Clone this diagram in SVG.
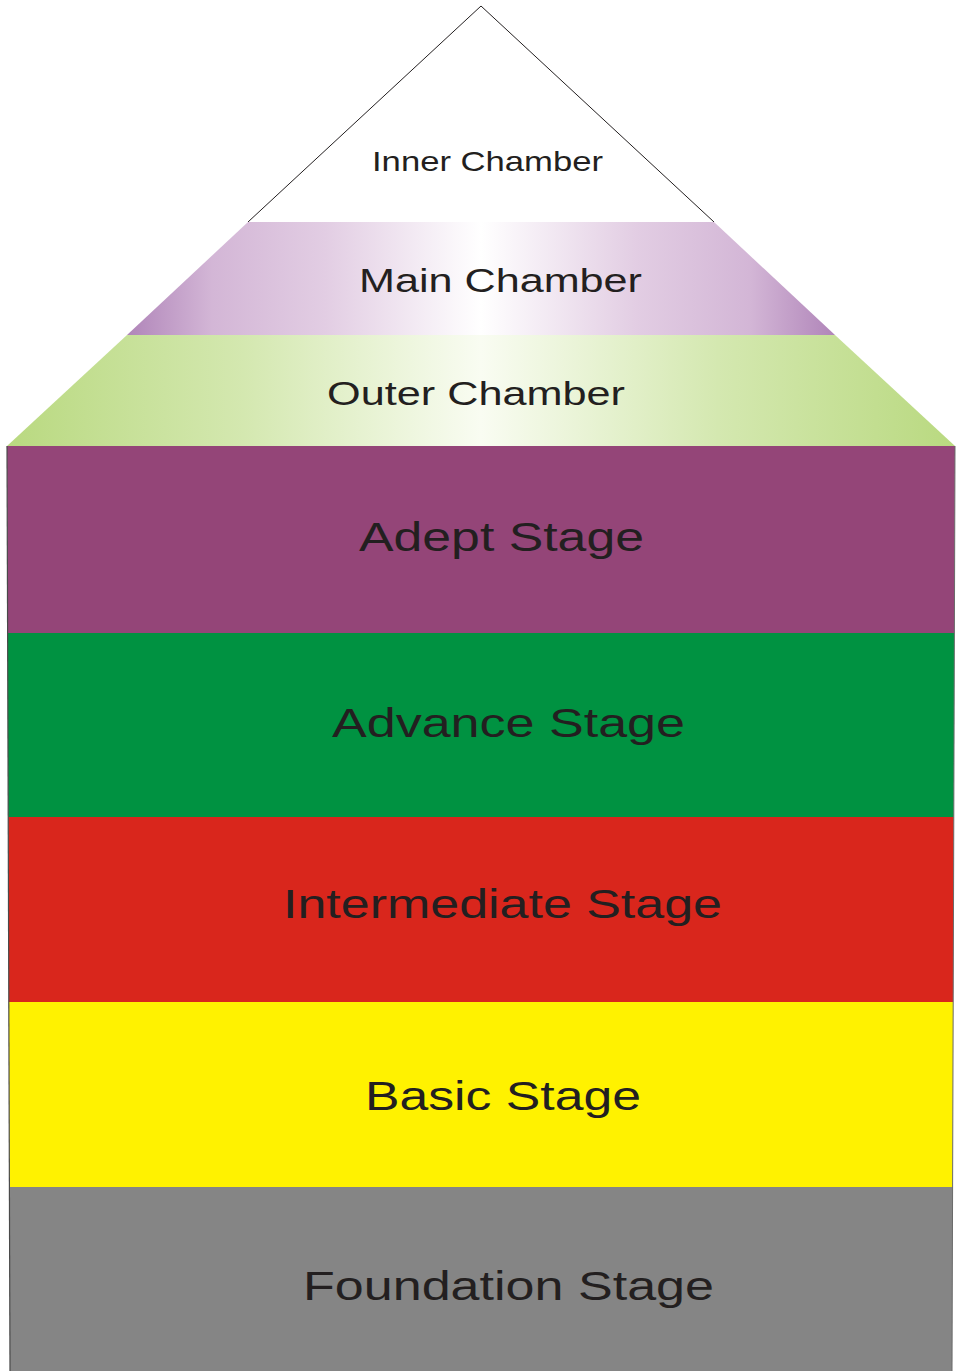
<svg xmlns="http://www.w3.org/2000/svg" width="962" height="1371" viewBox="0 0 962 1371">
<style>
.lbl{font-family:"Liberation Sans",Arial,sans-serif;fill:#231f20;text-anchor:start}
.edge{fill:none;stroke:#231f20;stroke-width:1}
</style>
<defs>
<linearGradient id="gMain" gradientUnits="userSpaceOnUse" x1="127" y1="0" x2="835" y2="0">
<stop offset="0" stop-color="#b085b9"/>
<stop offset="0.12" stop-color="#d3b6d6"/>
<stop offset="0.28" stop-color="#e2cde3"/>
<stop offset="0.5" stop-color="#ffffff"/>
<stop offset="0.72" stop-color="#e2cde3"/>
<stop offset="0.88" stop-color="#d3b6d6"/>
<stop offset="1" stop-color="#b085b9"/>
</linearGradient>
<linearGradient id="gOuter" gradientUnits="userSpaceOnUse" x1="7" y1="0" x2="955" y2="0">
<stop offset="0" stop-color="#b9d980"/>
<stop offset="0.25" stop-color="#d4e8b0"/>
<stop offset="0.5" stop-color="#f9fcf2"/>
<stop offset="0.75" stop-color="#d4e8b0"/>
<stop offset="1" stop-color="#b9d980"/>
</linearGradient>
</defs>
<rect width="962" height="1371" fill="#ffffff"/>

<g id="inner-chamber">
<polygon points="481,6 248,222 714,222" fill="#ffffff"/>
<polyline class="edge" points="248,222 481,6 714,222"/>
<text class="lbl" x="372" y="171" font-size="28" textLength="231" lengthAdjust="spacingAndGlyphs">Inner Chamber</text>
</g>

<g id="main-chamber">
<polygon points="248,222 714,222 835,335 127,335" fill="url(#gMain)"/>
<text class="lbl" x="359" y="292" font-size="34" textLength="283" lengthAdjust="spacingAndGlyphs">Main Chamber</text>
</g>

<g id="outer-chamber">
<polygon points="127,335 835,335 955,446 7,446" fill="url(#gOuter)"/>
<text class="lbl" x="327" y="405" font-size="34" textLength="298" lengthAdjust="spacingAndGlyphs">Outer Chamber</text>
</g>

<g id="adept-stage">
<polygon points="7,446 955,446 954.4,633 7.6,633" fill="#944578"/>
<text class="lbl" x="359" y="551" font-size="41" textLength="285" lengthAdjust="spacingAndGlyphs">Adept Stage</text>
</g>

<g id="advance-stage">
<polygon points="7.6,633 954.4,633 953.8,817 8.2,817" fill="#009241"/>
<text class="lbl" x="332" y="737" font-size="41" textLength="353" lengthAdjust="spacingAndGlyphs">Advance Stage</text>
</g>

<g id="intermediate-stage">
<polygon points="8.2,817 953.8,817 953.2,1002 8.8,1002" fill="#d9261c"/>
<text class="lbl" x="283" y="918" font-size="41" textLength="439" lengthAdjust="spacingAndGlyphs">Intermediate Stage</text>
</g>

<g id="basic-stage">
<polygon points="8.8,1002 953.2,1002 952.6,1187 9.4,1187" fill="#fff200"/>
<text class="lbl" x="365" y="1110" font-size="41" textLength="276" lengthAdjust="spacingAndGlyphs">Basic Stage</text>
</g>

<g id="foundation-stage">
<polygon points="9.4,1187 952.6,1187 952,1371 10,1371" fill="#858585"/>
<text class="lbl" x="303" y="1300" font-size="41" textLength="411" lengthAdjust="spacingAndGlyphs">Foundation Stage</text>
</g>

<g id="outline">
<line x1="7" y1="446" x2="10" y2="1371" stroke="#4a4a4a" stroke-width="1.2"/>
<line x1="955" y1="446" x2="952" y2="1371" stroke="#6a6a6a" stroke-width="1"/>
</g>
</svg>
